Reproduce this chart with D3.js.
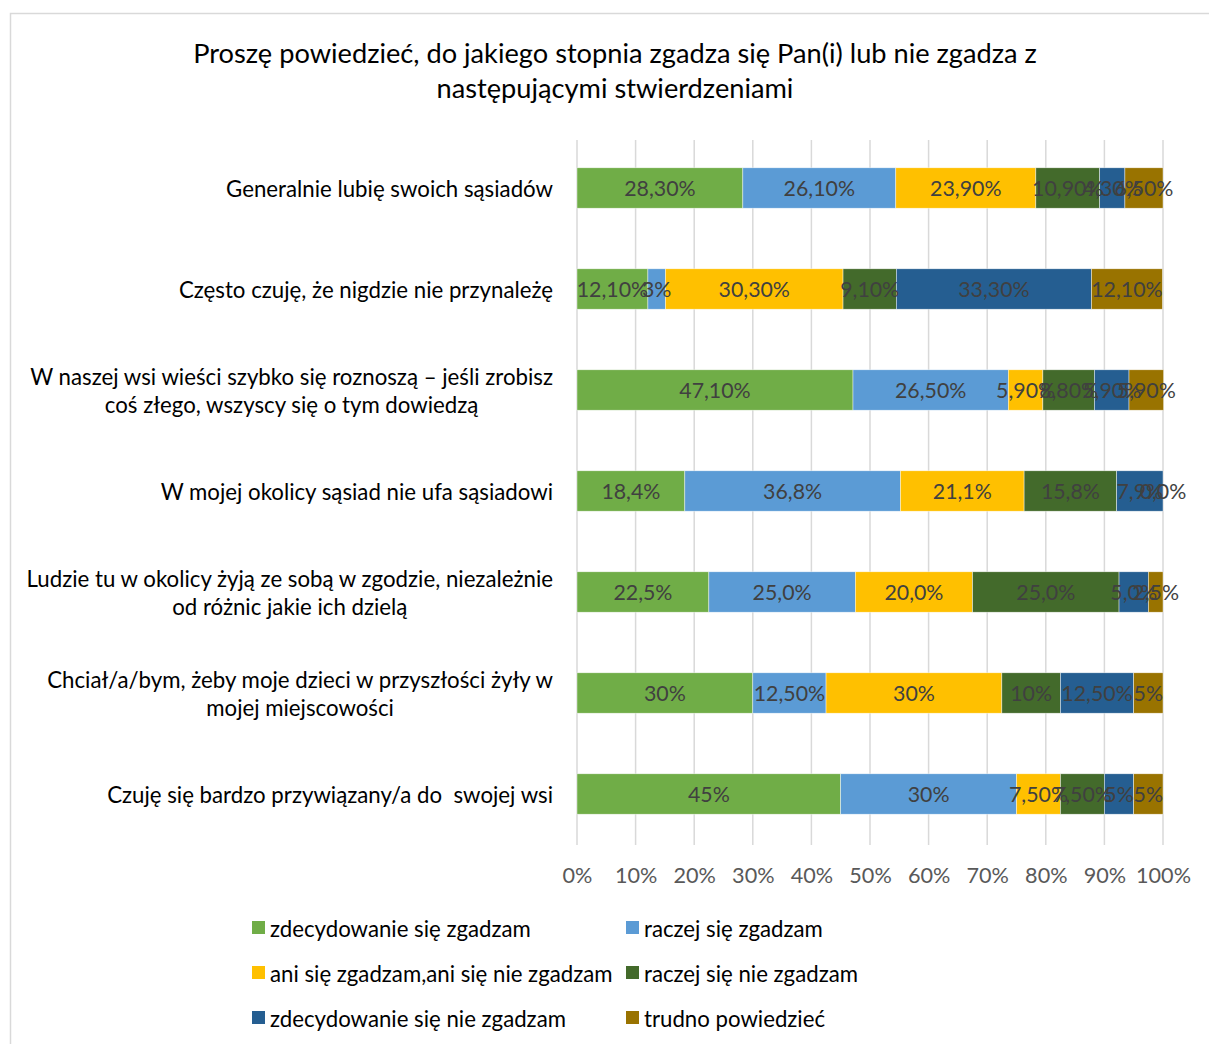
<!DOCTYPE html>
<html><head><meta charset="utf-8">
<script src="https://cdn.jsdelivr.net/npm/d3@7"></script>
<style>body{margin:0;background:#fff;}svg{display:block;} text{white-space:pre;}</style>
</head><body>
<svg id="c" width="1209" height="1044"></svg>
<script>
const titleLines = ["Proszę powiedzieć, do jakiego stopnia zgadza się Pan(i) lub nie zgadza z", "następującymi stwierdzeniami"];
const categories = [
  ["Generalnie lubię swoich sąsiadów"],
  ["Często czuję, że nigdzie nie przynależę"],
  ["W naszej wsi wieści szybko się roznoszą – jeśli zrobisz", "coś złego, wszyscy się o tym dowiedzą"],
  ["W mojej okolicy sąsiad nie ufa sąsiadowi"],
  ["Ludzie tu w okolicy żyją ze sobą w zgodzie, niezależnie", "od różnic jakie ich dzielą"],
  ["Chciał/a/bym, żeby moje dzieci w przyszłości żyły w", "mojej miejscowości"],
  ["Czuję się bardzo przywiązany/a do  swojej wsi"]
];
const seriesNames = ["zdecydowanie się zgadzam","raczej się zgadzam","ani się zgadzam,ani się nie zgadzam","raczej się nie zgadzam","zdecydowanie się nie zgadzam","trudno powiedzieć"];
const colors = ["#70AD47","#5B9BD5","#FFC000","#436A2B","#255E91","#997300"];
const zdecydowanieZgadzam = [28.3, 12.1, 47.1, 18.4, 22.5, 30, 45];
const raczejZgadzam       = [26.1, 3,    26.5, 36.8, 25.0, 12.5, 30];
const aniAni              = [23.9, 30.3, 5.9,  21.1, 20.0, 30, 7.5];
const raczejNieZgadzam    = [10.9, 9.1,  8.8,  15.8, 25.0, 10, 7.5];
const zdecydowanieNie     = [4.3,  33.3, 5.9,  7.9,  5.0,  12.5, 5];
const trudnoPowiedziec    = [6.5,  12.1, 5.9,  0.0,  2.5,  5, 5];
const labelFormats = ["2","g","2","1","1","g","g"];
const tickValues = [0,10,20,30,40,50,60,70,80,90,100];

const series = [zdecydowanieZgadzam, raczejZgadzam, aniAni, raczejNieZgadzam, zdecydowanieNie, trudnoPowiedziec];

const svg = d3.select("#c");
const FONT = "Lato, 'Open Sans', sans-serif";

// measuring helper
const meas = svg.append("text").attr("font-family", FONT).attr("font-size", 20).attr("visibility","hidden");
function width(text, size){ meas.attr("font-size", size).text(text); return meas.node().getComputedTextLength(); }
function fit(text, target){ return 20*target/width(text, 20); }

const titleSize = fit(titleLines[0], 844);
const catSize = fit(categories[0][0], 327);
const tickSize = fit("100%", 55);
const labSize = fit("28,30%", 71.5);
const legSize = fit(seriesNames[0], 261);
const catBlockW = categories.map(lines => d3.max(lines, l => width(l, catSize)));
meas.remove();

// border
svg.append("rect").attr("x",10.5).attr("y",13.5).attr("width",1300).attr("height",1200)
  .attr("fill","#fff").attr("stroke","#d9d9d9").attr("stroke-width",1.5);

// title
svg.append("g").selectAll("text").data(titleLines).join("text")
  .attr("x",615).attr("y",(d,i)=>52+i*35).attr("text-anchor","middle").attr("dominant-baseline","central")
  .attr("font-family",FONT).attr("font-size",titleSize).attr("fill","#000").text(d=>d);

const x = d3.scaleLinear().domain([0,100]).range([577,1163]);
const y = d3.scaleBand().domain(d3.range(categories.length)).range([137.5,844.5]).paddingInner(0.6).paddingOuter(0.3);

// gridlines
svg.append("g").selectAll("line").data(tickValues).join("line")
  .attr("x1",d=>x(d)).attr("x2",d=>x(d)).attr("y1",140).attr("y2",845)
  .attr("stroke","#d9d9d9").attr("stroke-width",1.5);

// x axis tick labels
const xAxis = d3.axisBottom(x).tickValues(tickValues).tickFormat(d=>d+"%").tickSize(0).tickPadding(0);
const ax = svg.append("g").attr("transform","translate(0,875)").call(xAxis);
ax.select(".domain").remove();
ax.selectAll("text").attr("font-family",FONT).attr("font-size",tickSize).attr("fill","#595959").attr("dy","0.35em").attr("y",0);

// stack
const rows = categories.map((c,i)=>{ const o={i}; series.forEach((s,k)=>o["s"+k]=s[i]); return o; });
const stack = d3.stack().keys(series.map((s,k)=>"s"+k))(rows);

function fmt(v, f){
  if (f==="g") return (Number.isInteger(v) ? String(v) : v.toFixed(2)).replace(".",",")+"%";
  return v.toFixed(+f).replace(".",",")+"%";
}

const gs = svg.append("g").selectAll("g").data(stack).join("g").attr("fill",(d,k)=>colors[k]);
gs.selectAll("rect").data(d=>d).join("rect")
  .attr("x",d=>x(d[0])).attr("width",d=>x(d[1])-x(d[0]))
  .attr("y",d=>y(d.data.i)).attr("height",y.bandwidth())
  .attr("stroke","#ffffff").attr("stroke-width",0.6).attr("stroke-opacity",0.7);

// data labels
const lg = svg.append("g");
stack.forEach((layer,k)=>{
  lg.selectAll(null).data(layer).join("text")
    .attr("x",d=>(x(d[0])+x(d[1]))/2).attr("y",d=>y(d.data.i)+y.bandwidth()/2)
    .attr("text-anchor","middle").attr("dominant-baseline","central")
    .attr("font-family",FONT).attr("font-size",labSize).attr("fill","#404040")
    .text(d=>fmt(series[k][d.data.i], labelFormats[d.data.i]));
});

// category labels (block right-aligned, lines centred within block)
const cg = svg.append("g");
categories.forEach((lines,i)=>{
  const cy = y(i)+y.bandwidth()/2;
  const cx = 553 - catBlockW[i]/2;
  cg.selectAll(null).data(lines).join("text")
    .attr("x",cx).attr("y",(d,j)=>cy+(j-(lines.length-1)/2)*28)
    .attr("text-anchor","middle").attr("dominant-baseline","central")
    .attr("font-family",FONT).attr("font-size",catSize).attr("fill","#000").text(d=>d);
});

// legend
const legPos = [[252,928],[626,928],[252,973],[626,973],[252,1018],[626,1018]];
const leg = svg.append("g").selectAll("g").data(seriesNames).join("g")
  .attr("transform",(d,i)=>`translate(${legPos[i][0]},${legPos[i][1]})`);
leg.append("rect").attr("x",0).attr("y",-7).attr("width",13).attr("height",13).attr("fill",(d,i)=>colors[i]);
leg.append("text").attr("x",18).attr("y",0).attr("dominant-baseline","central")
  .attr("font-family",FONT).attr("font-size",legSize).attr("fill","#000").text(d=>d);
</script>
</body></html>
